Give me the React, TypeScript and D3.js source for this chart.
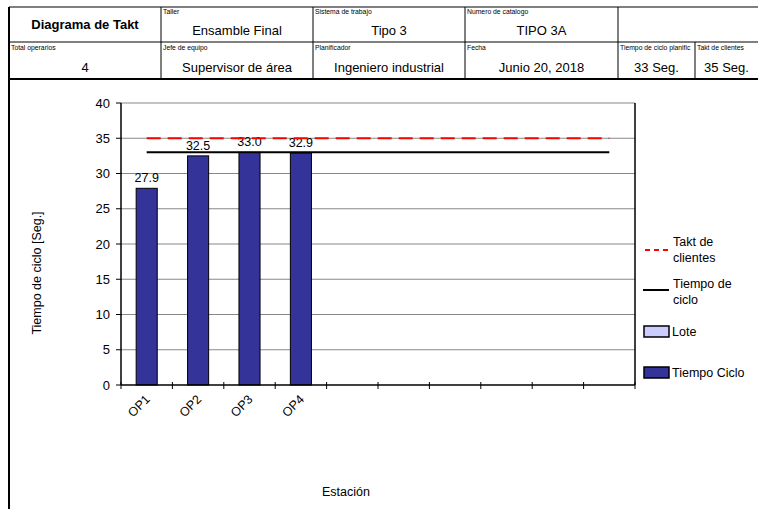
import React from "react";
import * as d3 from "d3";

const categories = ["OP1", "OP2", "OP3", "OP4", "", " ", "  ", "   ", "    ", "     "];
const cycleValues = [27.9, 32.5, 33.0, 32.9];
const yTicks = [0, 5, 10, 15, 20, 25, 30, 35, 40];
const taktValue = 35;
const plannedCycle = 33;

const headerTop = [
  { label: "Taller", value: "Ensamble Final" },
  { label: "Sistema de trabajo", value: "Tipo 3" },
  { label: "Numero de catalogo", value: "TIPO 3A" },
];
const headerBottom = [
  { label: "Total operarios", value: "4" },
  { label: "Jefe de equipo", value: "Supervisor de área" },
  { label: "Planificador", value: "Ingeniero industrial" },
  { label: "Fecha", value: "Junio 20, 2018" },
  { label: "Tiempo de ciclo planific", value: "33 Seg." },
  { label: "Takt de clientes", value: "35 Seg." },
];

const FONT = "'Liberation Sans', Arial, sans-serif";

export default function App() {
  const W = 758, H = 509;
  const left = 121, right = 635, top = 103, bottom = 385;
  const x = d3.scaleBand<string>().domain(categories).range([left, right]).paddingInner(0).paddingOuter(0);
  const y = d3.scaleLinear().domain([0, 40]).range([bottom, top]);
  const bw = x.bandwidth() * 0.41;
  const cx = (c: string) => (x(c) as number) + x.bandwidth() / 2;
  const lineX1 = cx(categories[0]);
  const lineX2 = cx(categories[categories.length - 1]);

  // header geometry
  const topCols = [9, 161, 313, 465, 618, 758];
  const botCols = [9, 161, 313, 465, 618, 695, 758];
  const rowY = [7, 42, 79];

  return (
    <div style={{ position: "fixed", left: 0, top: 0, width: W, height: H, background: "#fff" }}>
      <svg width={W} height={H} style={{ display: "block", fontFamily: FONT }}>
        <rect x={0} y={0} width={W} height={H} fill="#fff" />
        {/* header table */}
        <line x1={9} x2={W} y1={rowY[0]} y2={rowY[0]} stroke="#000" strokeWidth={1.2} />
        <line x1={9} x2={W} y1={rowY[1]} y2={rowY[1]} stroke="#000" strokeWidth={1} />
        <line x1={9} x2={W} y1={rowY[2]} y2={rowY[2]} stroke="#000" strokeWidth={2} />
        <line x1={9} x2={9} y1={rowY[0]} y2={H} stroke="#000" strokeWidth={2} />
        {topCols.slice(1, -1).map((c) => (
          <line key={"tc" + c} x1={c} x2={c} y1={rowY[0]} y2={rowY[1]} stroke="#000" strokeWidth={1} />
        ))}
        {botCols.slice(1, -1).map((c) => (
          <line key={"bc" + c} x1={c} x2={c} y1={rowY[1]} y2={rowY[2]} stroke="#000" strokeWidth={1} />
        ))}
        <text x={85} y={29} textAnchor="middle" fontSize={13} fontWeight="bold">Diagrama de Takt</text>
        {headerTop.map((h, i) => (
          <g key={"ht" + i}>
            <text x={topCols[i + 1] + 2} y={rowY[0] + 7} fontSize={6.8}>{h.label}</text>
            <text x={(topCols[i + 1] + topCols[i + 2]) / 2} y={35} textAnchor="middle" fontSize={13}>{h.value}</text>
          </g>
        ))}
        {headerBottom.map((h, i) => (
          <g key={"hb" + i}>
            <clipPath id={"clip" + i}>
              <rect x={botCols[i]} y={rowY[1]} width={botCols[i + 1] - botCols[i] - 1} height={37} />
            </clipPath>
            <text x={botCols[i] + 2} y={rowY[1] + 8} fontSize={6.8} clipPath={`url(#clip${i})`}>{h.label}</text>
            <text x={(botCols[i] + botCols[i + 1]) / 2} y={72} textAnchor="middle" fontSize={13}>{h.value}</text>
          </g>
        ))}

        {/* gridlines */}
        {yTicks.filter((t) => t > 0).map((t) => (
          <line key={"g" + t} x1={left} x2={right} y1={y(t)} y2={y(t)} stroke="#888" strokeWidth={1.2} />
        ))}
        {/* plot right border */}
        <line x1={right} x2={right} y1={top} y2={bottom} stroke="#000" strokeWidth={1.5} />

        {/* bars */}
        {cycleValues.map((v, i) => (
          <g key={"b" + i}>
            <rect x={cx(categories[i]) - bw / 2} y={y(v)} width={bw} height={y(0) - y(v)} fill="#333399" stroke="#000" strokeWidth={1} />
            <text x={cx(categories[i])} y={y(v) - 6} textAnchor="middle" fontSize={12.5}>{v.toFixed(1)}</text>
          </g>
        ))}

        {/* takt and cycle lines */}
        <line x1={lineX1} x2={lineX2} y1={y(taktValue)} y2={y(taktValue)} stroke="#ff0000" strokeWidth={2.2} strokeDasharray="14,7" />
        <line x1={lineX1} x2={lineX2} y1={y(plannedCycle)} y2={y(plannedCycle)} stroke="#000" strokeWidth={2} />

        {/* axes */}
        <line x1={left} x2={left} y1={top} y2={bottom} stroke="#000" strokeWidth={1.5} />
        <line x1={left} x2={right} y1={bottom} y2={bottom} stroke="#000" strokeWidth={1.5} />
        {yTicks.map((t) => (
          <g key={"yt" + t}>
            <line x1={left - 5} x2={left} y1={y(t)} y2={y(t)} stroke="#000" strokeWidth={1} />
            <text x={110} y={y(t) + 4.5} textAnchor="end" fontSize={13}>{t}</text>
          </g>
        ))}
        {categories.map((c, i) => (
          <line key={"xt" + i} x1={x(c) as number} x2={x(c) as number} y1={bottom - 3} y2={bottom + 4} stroke="#000" strokeWidth={1} />
        ))}
        <line x1={right} x2={right} y1={bottom - 3} y2={bottom + 4} stroke="#000" strokeWidth={1} />
        {categories.map((c, i) =>
          c.trim() ? (
            <text key={"xl" + i} transform={`translate(${cx(c) + 4},${bottom + 15}) rotate(-45)`} textAnchor="end" fontSize={12.5}>{c}</text>
          ) : null
        )}

        {/* axis titles */}
        <text transform={`translate(41,273) rotate(-90)`} textAnchor="middle" fontSize={12.5}>Tiempo de ciclo [Seg.]</text>
        <text x={346} y={496} textAnchor="middle" fontSize={12.5}>Estación</text>

        {/* legend */}
        <line x1={645} x2={669} y1={250} y2={250} stroke="#ff0000" strokeWidth={2} strokeDasharray="5,4" />
        <text x={673} y={246} fontSize={12.5}>Takt de</text>
        <text x={673} y={262} fontSize={12.5}>clientes</text>
        <line x1={643} x2={669} y1={290} y2={290} stroke="#000" strokeWidth={2} />
        <text x={673} y={288} fontSize={12.5}>Tiempo de</text>
        <text x={673} y={304} fontSize={12.5}>ciclo</text>
        <rect x={644} y={326} width={25} height={11} fill="#ccccff" stroke="#000" strokeWidth={1.5} />
        <text x={672} y={336} fontSize={12.5}>Lote</text>
        <rect x={644} y={367} width={25} height={11} fill="#333399" stroke="#000" strokeWidth={1.5} />
        <text x={672} y={377} fontSize={12.5}>Tiempo Ciclo</text>
      </svg>
    </div>
  );
}
